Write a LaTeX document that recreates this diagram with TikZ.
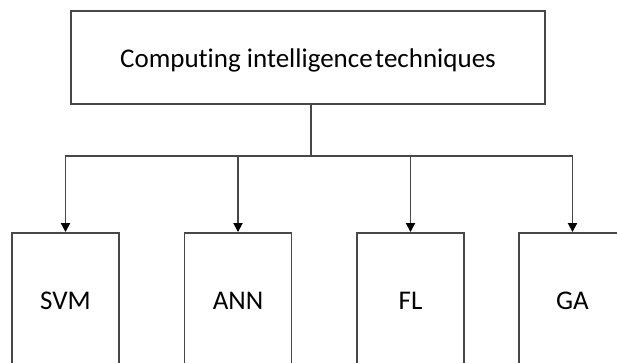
\documentclass[tikz,border=0pt]{standalone}
\usepackage{fontspec}
\setmainfont[Ligatures=NoCommon]{Carlito}
\usetikzlibrary{arrows.meta}
\begin{document}
\begin{tikzpicture}[x=1pt,y=1pt,
  boxline/.style={draw=black!72, line width=1.9pt},
  topbox/.style={boxline, rectangle, minimum width=474pt, minimum height=93pt, inner sep=0pt, text height=21pt, text depth=0pt, font=\fontsize{27}{30}\selectfont},
  leafbox/.style={boxline, rectangle, minimum width=107pt, minimum height=132pt, inner sep=0pt, text height=20pt, text depth=0pt, font=\fontsize{27}{30}\selectfont},
  link/.style={draw=black!72, line width=1.9pt},
  arrowlink/.style={link, -{Triangle[length=9pt,width=9pt,color=black]}}]
\path[use as bounding box, clip] (0,0) rectangle (617,-363);
\fill[white] (0,0) rectangle (617,-363);
\node[topbox] (top) at (308,-57.5) {Computing intelligence\hspace{2.5pt}techniques};
\node[leafbox] (svm) at (65.5,-299) {SVM};
\node[leafbox] (ann) at (238,-299) {ANN};
\node[leafbox] (fl) at (410.5,-299) {FL};
\node[leafbox] (ga) at (572.5,-299) {GA};
\coordinate (j) at (311,-156);
\draw[link] (j |- top.south) -- (j);
\draw[arrowlink] (j) -| (svm.north);
\draw[arrowlink] (j) -| (ann.north);
\draw[arrowlink] (j) -| (fl.north);
\draw[arrowlink] (j) -| (ga.north);
\end{tikzpicture}
\end{document}
